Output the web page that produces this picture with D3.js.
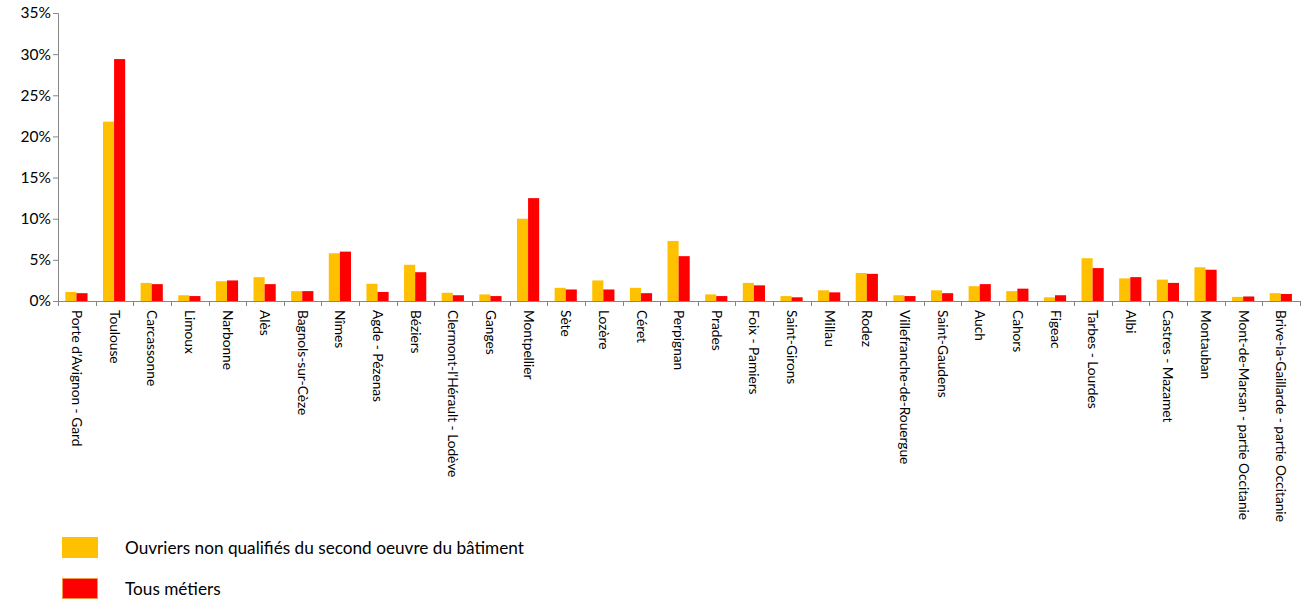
<!DOCTYPE html>
<html>
<head>
<meta charset="utf-8">
<script src="https://cdn.jsdelivr.net/npm/d3@7"></script>
<style>
  html, body { margin: 0; padding: 0; background: #fff; }
  svg { display: block; font-family: Lato, "Open Sans", sans-serif; }
</style>
</head>
<body>
<svg id="chart" width="1303" height="603"></svg>
<script>
const categories = [
  "Porte d'Avignon - Gard", "Toulouse", "Carcassonne", "Limoux", "Narbonne", "Alès",
  "Bagnols-sur-Cèze", "Nîmes", "Agde - Pézenas", "Béziers", "Clermont-l'Hérault - Lodève",
  "Ganges", "Montpellier", "Sète", "Lozère", "Céret", "Perpignan", "Prades",
  "Foix - Pamiers", "Saint-Girons", "Millau", "Rodez", "Villefranche-de-Rouergue",
  "Saint-Gaudens", "Auch", "Cahors", "Figeac", "Tarbes - Lourdes", "Albi",
  "Castres - Mazamet", "Montauban", "Mont-de-Marsan - partie Occitanie",
  "Brive-la-Gaillarde - partie Occitanie"
];
const ouvriers = [
  1.1, 21.8, 2.2, 0.7, 2.4, 2.9, 1.2, 5.8, 2.1, 4.4, 1.0,
  0.8, 10.0, 1.6, 2.5, 1.6, 7.3, 0.8, 2.2, 0.6, 1.3, 3.4, 0.7,
  1.3, 1.8, 1.2, 0.45, 5.2, 2.75, 2.6, 4.1, 0.5, 0.95
];
const tousMetiers = [
  0.95, 29.4, 2.05, 0.6, 2.5, 2.05, 1.2, 6.0, 1.1, 3.5, 0.7,
  0.6, 12.5, 1.4, 1.4, 0.95, 5.45, 0.6, 1.9, 0.45, 1.05, 3.3, 0.6,
  0.95, 2.05, 1.5, 0.7, 4.0, 2.9, 2.2, 3.8, 0.55, 0.85
];
const seriesNames = ["Ouvriers non qualifiés du second oeuvre du bâtiment", "Tous métiers"];
const seriesColors = ["#FFC000", "#FF0000"];
const yTicks = [0, 5, 10, 15, 20, 25, 30, 35];

const svg = d3.select("#chart");
const mLeft = 58, mRight = 1300, mTop = 13, mBottom = 301;

const x = d3.scaleBand().domain(categories).range([mLeft, mRight]).padding(0);
const y = d3.scaleLinear().domain([0, 35]).range([mBottom, mTop]);
const bw = x.bandwidth();
const xs = d3.scaleBand().domain([0, 1]).range([bw * 0.195, bw * 0.785]).padding(0);

const data = categories.map((c, i) => ({ c, v: [ouvriers[i], tousMetiers[i]] }));

// bars
const g = svg.append("g");
const groups = g.selectAll("g.grp").data(data).join("g")
  .attr("class", "grp")
  .attr("transform", d => `translate(${x(d.c)},0)`);
groups.selectAll("rect").data(d => d.v.map((v, k) => ({ v, k }))).join("rect")
  .attr("x", d => xs(d.k))
  .attr("width", xs.bandwidth())
  .attr("y", d => y(d.v))
  .attr("height", d => y(0) - y(d.v))
  .attr("fill", d => seriesColors[d.k]);

// y axis
const yAxis = d3.axisLeft(y).tickValues(yTicks).tickSize(5).tickFormat(d => d + "%");
const ya = svg.append("g").attr("transform", `translate(${mLeft},0)`).call(yAxis);
ya.select(".domain").attr("stroke", "#868686");
ya.selectAll(".tick line").attr("stroke", "#868686");
ya.selectAll(".tick text").attr("font-size", 15.5).attr("fill", "#000").attr("x", -7)
  .attr("font-family", "Lato, sans-serif");

// x axis baseline & ticks at band boundaries
svg.append("line").attr("x1", mLeft).attr("x2", mRight).attr("y1", y(0) + 0.5).attr("y2", y(0) + 0.5)
  .attr("stroke", "#868686");
const bounds = categories.map(c => x(c)).concat([mRight]);
svg.selectAll("line.xt").data(bounds).join("line").attr("class", "xt")
  .attr("x1", d => Math.round(d) + 0.5).attr("x2", d => Math.round(d) + 0.5)
  .attr("y1", y(0)).attr("y2", y(0) + 5).attr("stroke", "#868686");

// x labels rotated
svg.selectAll("text.xl").data(categories).join("text").attr("class", "xl")
  .attr("transform", d => `translate(${x(d) + bw / 2},${310}) rotate(90)`)
  .attr("dy", "0.35em")
  .attr("font-size", 13.7)
  .attr("fill", "#000")
  .text(d => d);

// legend
const leg = svg.append("g");
const legY = [537, 578];
seriesNames.forEach((n, k) => {
  leg.append("rect").attr("x", 62.5).attr("y", legY[k] + 0.5).attr("width", 35).attr("height", 20)
    .attr("fill", seriesColors[k])
    .attr("stroke", k === 1 ? "#F79646" : "#FFC000").attr("stroke-width", 1);
  leg.append("text").attr("x", 125).attr("y", legY[k] + 11).attr("dy", "0.35em")
    .attr("font-size", 17.2).attr("fill", "#000").text(n);
});
</script>
</body>
</html>
